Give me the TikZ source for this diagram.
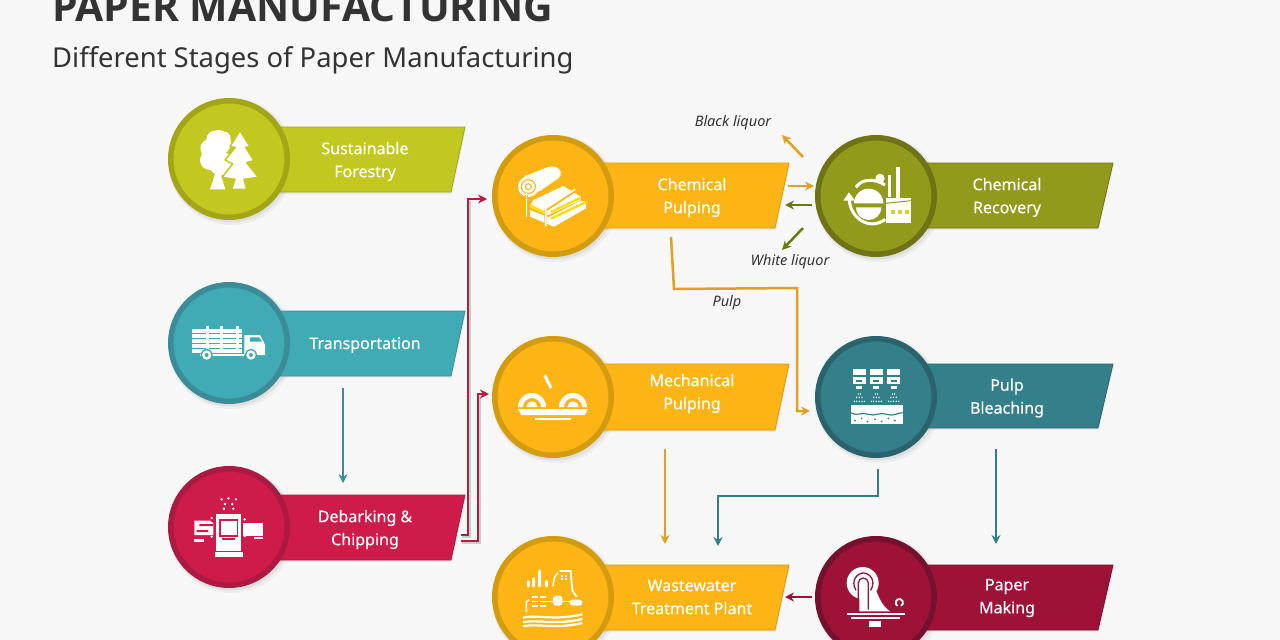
\documentclass[tikz,border=0pt]{standalone}
\usepackage{fontspec}
\setmainfont{Noto Sans}
\newfontfamily\labfont{Noto Sans}[FakeBold=0.35]
\newfontfamily\ttlfont{Open Sans}
\usetikzlibrary{arrows.meta,calc}
\definecolor{bgA}{HTML}{F7F7F7}
\definecolor{limeF}{HTML}{C2C81F}\definecolor{limeR}{HTML}{A2A516}
\definecolor{tealF}{HTML}{40AAB5}\definecolor{tealR}{HTML}{3B8C98}
\definecolor{crimF}{HTML}{CE1B4A}\definecolor{crimR}{HTML}{AB1A42}
\definecolor{oranF}{HTML}{FDB515}\definecolor{oranR}{HTML}{D39C0E}
\definecolor{oliveF}{HTML}{919A1B}\definecolor{oliveR}{HTML}{6E7316}
\definecolor{dtealF}{HTML}{33808A}\definecolor{dtealR}{HTML}{2A636D}
\definecolor{maroF}{HTML}{9E1238}\definecolor{maroR}{HTML}{75102E}
\definecolor{arrO}{HTML}{E0A020}\definecolor{arrG}{HTML}{6B7A10}
\definecolor{arrT}{HTML}{2F7F88}\definecolor{arrR}{HTML}{BC1840}
\definecolor{txt}{HTML}{333333}
\tikzset{
  zoomed/.style n args={4}{shift={(#1,#2)},x=.33333pt,y=-.33333pt,shift={(-#3,-#4)}},
  lab/.style={text=white,align=center,inner sep=0pt,font=\fontsize{16}{23}\selectfont\labfont},
  note/.style={text=txt,inner sep=0pt,font=\fontsize{14.5}{16}\selectfont\itshape},
  conn/.style={line width=2.5pt,-{Stealth[length=9pt,width=9pt]}}
}
\newcommand{\stage}[9]{%
  \fill[black,opacity=.04] ($(#2,#3)+(2.5,2.5)$) circle[radius=63.5];
  \fill[black,opacity=.06] ($(#2,#3)+(1.5,1.5)$) circle[radius=62];
  \fill[black,opacity=.05] (#2+2,#4+2) -- (#6+1,#4+2) -- (#7+1,#5+2) -- (#2+2,#5+2) -- cycle;
  \draw[fill=#8,draw=#9,line width=.8pt,line join=round] (#2,#4) -- (#6,#4) -- (#7,#5) -- (#2,#5) -- cycle;
  \node[circle,fill=#8,draw=#9,line width=5.5pt,minimum size=116.5pt,inner sep=0pt] (#1) at (#2,#3) {};
}
\begin{document}
\begin{tikzpicture}[x=1pt,y=-1pt]
\useasboundingbox (0,0) rectangle (1280,640);
\fill[bgA] (0,0) rectangle (1280,640);
\path[clip] (0,0) rectangle (1280,640);

\node[anchor=base west,inner sep=0pt,text=txt,font=\fontsize{40.8}{41}\selectfont\ttlfont\bfseries] (title) at (52,21) {PAPER MANUFACTURING};
\node[anchor=base west,inner sep=0pt,text=txt,font=\fontsize{27.4}{30}\selectfont] (subtitle) at (52,67) {Different Stages of Paper Manufacturing};

\stage{forestry}{229}{159}{127}{192}{465}{451}{limeF}{limeR}
\stage{transport}{229}{343}{311}{376}{465}{451}{tealF}{tealR}
\stage{debark}{229}{527}{495}{560}{465}{451}{crimF}{crimR}
\stage{chempulp}{553}{196}{163}{228}{789}{775}{oranF}{oranR}
\stage{mechpulp}{553}{397}{364}{430}{789}{775}{oranF}{oranR}
\stage{waste}{553}{597}{565}{630}{789}{775}{oranF}{oranR}
\stage{recovery}{876}{196}{163}{228}{1113}{1098}{oliveF}{oliveR}
\stage{bleach}{876}{397}{364}{428}{1113}{1098}{dtealF}{dtealR}
\stage{papermk}{876}{597}{565}{630}{1113}{1098}{maroF}{maroR}

\node[lab] (lforestry) at (365,161.5) {Sustainable\\Forestry};
\node[lab] (ltransport) at (365,345) {Transportation};
\node[lab] (ldebark) at (365,529.5) {Debarking \&\\Chipping};
\node[lab] (lchempulp) at (692,197.5) {Chemical\\Pulping};
\node[lab] (lmechpulp) at (692,393.5) {Mechanical\\Pulping};
\node[lab] (lwaste) at (692,597) {Wastewater\\Treatment Plant};
\node[lab] (lrecovery) at (1007,197.5) {Chemical\\Recovery};
\node[lab] (lbleach) at (1007,398) {Pulp\\Bleaching};
\node[lab] (lpapermk) at (1007,598) {Paper\\Making};

\node[note] (nblack) at (733,123) {Black liquor};
\node[note] (nwhite) at (790,262) {White liquor};
\node[note] (npulp) at (727,303) {Pulp};

% connectors
\coordinate (a1) at (343,388); \coordinate (a2) at (343,483);
\draw[conn,tealR] (a1) -- (a2);
\coordinate (b1) at (461,535); \coordinate (b2) at (468,535); \coordinate (b3) at (468,199); \coordinate (b4) at (487,199);
\coordinate (c1) at (461,541); \coordinate (c2) at (478,541); \coordinate (c3) at (478,394); \coordinate (c4) at (489,394);
\draw[black!20,line width=2pt] (462,537) -- (470,537) -- (470,201);
\draw[black!20,line width=2pt] (462,543) -- (480,543) -- (480,396);
\draw[conn,arrR] (b1) -- (b2) -- (b3) -- (b4);
\draw[conn,arrR] (c1) -- (c2) -- (c3) -- (c4);
\coordinate (d1) at (803,157); \coordinate (d2) at (782,135);
\draw[conn,arrO] (d1) -- (d2);
\coordinate (e1) at (788,186); \coordinate (e2) at (814,186);
\draw[conn,arrO] (e1) -- (e2);
\coordinate (f1) at (812,205); \coordinate (f2) at (785,205);
\draw[conn,arrG] (f1) -- (f2);
\coordinate (g1) at (803,228); \coordinate (g2) at (782,250);
\draw[conn,arrG] (g1) -- (g2);
\coordinate (h1) at (671,237); \coordinate (h2) at (674,289); \coordinate (h3) at (797,288); \coordinate (h4) at (797,411); \coordinate (h5) at (810,411);
\draw[conn,arrO] (h1) -- (h2) -- (h3) -- (h4) -- (h5);
\coordinate (i1) at (665,449); \coordinate (i2) at (665,544);
\draw[conn,arrO] (i1) -- (i2);
\coordinate (j1) at (878,469); \coordinate (j2) at (878,496); \coordinate (j3) at (718,496); \coordinate (j4) at (718,546);
\draw[conn,arrT] (j1) -- (j2) -- (j3) -- (j4);
\coordinate (k1) at (996,449); \coordinate (k2) at (996,544);
\draw[conn,arrT] (k1) -- (k2);
\coordinate (l1) at (812,597); \coordinate (l2) at (785,597);
\draw[conn,maroF] (l1) -- (l2);

% tree icon
\begin{scope}[zoomed={229}{159}{237}{207}]
 \fill[white] (195,252) -- (180,298) -- (226,298) -- (212,252) -- cycle;
 \fill[white] (205,158) circle[radius=38] (180,210) circle[radius=30] (212,220) circle[radius=36] (178,175) circle[radius=27] (195,148) circle[radius=26] (222,145) circle[radius=20];
 \filldraw[draw=limeF,fill=white,line width=1.5pt,line join=round]
  (270,122) -- (300,170) -- (287,172) -- (312,212) -- (290,218) -- (325,262) -- (282,268) -- (290,298) -- (245,298) -- (255,268) -- (216,262) -- (248,222) -- (225,210) -- (256,172) -- (240,170) -- cycle;
\end{scope}

% truck icon
\begin{scope}[zoomed={229}{343}{237}{759}]
 \foreach \y in {722,737,752,767,782}{\fill[white] (127,\y-6) rectangle (277,\y+6);}
 \foreach \x in {172,215,262}{\fill[white] (\x-4,708) rectangle (\x+4,795);}
 \fill[white] (283,735) -- (330,735) -- (345,765) -- (345,795) -- (283,795) -- cycle;
 \fill[tealF] (300,742) -- (328,742) -- (336,755) -- (300,755) -- cycle;
 \fill[tealF] (150,790) rectangle (283,793);
 \fill[white] (150,793) rectangle (283,797);
 \fill[tealF] (170,795) circle[radius=18] (303,795) circle[radius=18];
 \fill[white] (170,795) circle[radius=14] (303,795) circle[radius=14];
 \fill[tealF] (170,795) circle[radius=6] (303,795) circle[radius=6];
\end{scope}

% debarker icon
\begin{scope}[zoomed={229}{527}{207}{381}]
 \foreach \x/\y in {185/298,205/295,228/298,195/312,217/312,192/326,220/326}{\fill[white] (\x,\y) circle[radius=4];}
 \fill[white] (168,342) rectangle (243,452);
 \fill[white] (165,457) rectangle (248,472);
 \draw[crimF,line width=1.1pt] (180,360) rectangle (232,408);
 \fill[crimF] (186,415) rectangle (226,420);
 \fill[white] (103,362) -- (150,362) -- (160,370) -- (160,405) -- (103,405) -- cycle;
 \fill[crimF] (118,372) rectangle (160,378) (110,390) rectangle (145,396);
 \fill[white] (103,416) rectangle (132,425);
 \fill[white] (250,368) rectangle (308,408);
 \fill[white] (283,410) rectangle (308,418);
 \foreach \x/\y in {155/354,155/410,254/358,254/408}{\fill[white] (\x,\y) circle[radius=4];}
\end{scope}

% paper roll icon
\begin{scope}[zoomed={553}{196}{219}{288}]
 \fill[white,rounded corners=4pt] (125,232) -- (215,197) -- (240,205) -- (245,228) -- (170,280) -- cycle;
 \fill[white] (145,260) circle[radius=31];
 \draw[oranF,line width=1.1pt] (145,260) circle[radius=21];
 \draw[oranF,line width=1.1pt] (145,260) circle[radius=9];
 \fill[white] (160,300) -- (250,258) -- (302,290) -- (302,300) -- (205,345) -- (150,320) -- cycle;
 \fill[white] (205,352) -- (302,302) -- (318,305) -- (318,325) -- (222,380) -- (150,350) -- (150,330) -- cycle;
 \fill[yellow!70!oranF] (152,313) -- (197,335) -- (197,344) -- (152,324) -- cycle;
 \fill[yellow!70!oranF] (213,332) -- (300,290) -- (300,298) -- (213,340) -- cycle;
 \fill[yellow!70!oranF] (213,352) -- (318,302) -- (318,310) -- (213,360) -- cycle;
 \draw[oranF,line width=2.6pt] (140,285) -- (140,356);
 \draw[white,line width=1.6pt] (140,280) -- (140,352);
 \draw[oranF,line width=2.8pt] (197,330) -- (197,378) (197,330) -- (285,272);
 \draw[white,line width=1.7pt] (197,325) -- (197,378) (197,325) -- (285,268);
\end{scope}

% mechanical pulping icon
\begin{scope}[zoomed={553}{397}{150}{150}]
 \draw[white,line width=3pt] (125,85) -- (144,123);
 \foreach \c in {87,210}{
  \fill[white] (\c-42,180) arc[start angle=180,end angle=360,radius=42] -- (\c+27,180) arc[start angle=360,end angle=180,radius=27] -- cycle;
  \fill[white] (\c-17,180) arc[start angle=180,end angle=360,radius=17] -- cycle;
 }
 \fill[white] (45,186) -- (255,186) -- (245,204) -- (55,204) -- cycle;
 \fill[white] (95,212) rectangle (205,218);
\end{scope}

% wastewater icon
\begin{scope}[zoomed={553}{597}{150}{150}]
 \foreach \x/\y in {76/100,92/92,110/68,130/100}{\fill[white,rounded corners=1pt] (\x-4.5,\y) rectangle (\x+4.5,120);}
 \draw[white,line width=1.5pt] (150,118) .. controls (153,95) and (155,85) .. (165,78);
 \draw[white,line width=1.8pt] (170,72) -- (203,72) -- (208,130) -- (221,150);
 \foreach \x/\y in {177/86,188/86,177/97,188/97}{\fill[white] (\x-3,\y-3) rectangle (\x+3,\y+3);}
 \draw[white,line width=1.5pt] (70,195) -- (70,165) -- (78,158);
 \foreach \y in {150,163,176}{\fill[white] (86,\y-2.5) rectangle (104,\y+2.5); \fill[white] (110,\y-2.5) rectangle (128,\y+2.5);}
 \draw[white,line width=1.3pt] (128,163) -- (200,163);
 \fill[white,rounded corners=3pt] (150,146) rectangle (178,176);
 \fill[white,rounded corners=3pt] (200,158) rectangle (238,176);
 \foreach \y in {212,226,238}{
  \draw[white,line width=2.2pt] (60,\y) .. controls (110,\y-10) and (150,\y+10) .. (238,\y-10);}
\end{scope}

% recovery icon
\begin{scope}[zoomed={876}{196}{288}{258}]
 \fill[white] (222,280) arc[start angle=180,end angle=360,radius=44] -- cycle;
 \fill[white] (228,292) arc[start angle=180,end angle=0,radius=38] -- cycle;
 \draw[white,line width=3pt] (228,232) .. controls (245,205) and (285,205) .. (315,225);
 \draw[white,line width=3pt] (208,270) .. controls (210,320) and (265,365) .. (316,328);
 \fill[white] (190,272) -- (207,247) -- (225,272) -- cycle;
 \fill[white] (300,205) circle[radius=14];
 \fill[white] (348,170) rectangle (360,265);
 \fill[white] (325,195) rectangle (333,262);
 \fill[white] (318,265) -- (392,265) -- (392,340) -- (318,340) -- cycle;
 \foreach \x in {339,360,381}{\fill[yellow!60!oliveF] (\x-5,300) rectangle (\x+5,312);}
 \draw[oliveF,line width=1pt] (318,280) -- (392,272);
\end{scope}

% bleaching icon
\begin{scope}[zoomed={876}{397}{288}{861}]
 \foreach \x in {238,289,341}{
  \fill[white] (\x-19,778) rectangle (\x+19,795);
  \fill[white] (\x-19,802) rectangle (\x+19,823);
  \fill[dtealF] (\x-9,811) rectangle (\x+9,816);
  \fill[white] (\x-9,827) rectangle (\x+9,837);
  \foreach \d/\r in {-3/852,3/852,-8/862,0/862,8/862,-15/874,-8/874,0/874,8/874,15/874}{\fill[white] (\x+\d,\r) circle[radius=2.4];}
 }
 \fill[white] (212,885) rectangle (368,942);
 \draw[dtealF,line width=1.2pt] (212,908) .. controls (235,920) and (245,905) .. (265,913) .. controls (285,920) and (300,905) .. (320,913) .. controls (340,920) and (355,908) .. (368,908);
 \foreach \x/\y in {225/932,245/925,262/935,285/928,305/934,325/925,345/932}{\fill[dtealF] (\x,\y) circle[radius=2.8];}
\end{scope}

% paper machine icon
\begin{scope}[zoomed={876}{597}{150}{150}]
 \fill[white] (110,108) circle[radius=48];
 \fill[white] (100,140) -- (150,130) .. controls (160,155) and (170,178) .. (192,193) -- (100,193) -- cycle;
 \draw[maroF,line width=1.3pt] (90,130) .. controls (72,100) and (95,78) .. (112,78) .. controls (130,78) and (152,100) .. (134,130);
 \draw[maroF,line width=1.3pt] (97,188) -- (97,108) arc[start angle=180,end angle=360,radius=15] -- (127,188);
 \fill[white] (62,197) rectangle (238,203);
 \fill[white] (75,210) rectangle (222,216);
 \fill[white] (130,222) rectangle (165,240);
 \draw[white,line width=1.8pt] (220,167) ++(60:11) arc[start angle=60,end angle=-240,radius=11];
\end{scope}
\end{tikzpicture}
\end{document}
